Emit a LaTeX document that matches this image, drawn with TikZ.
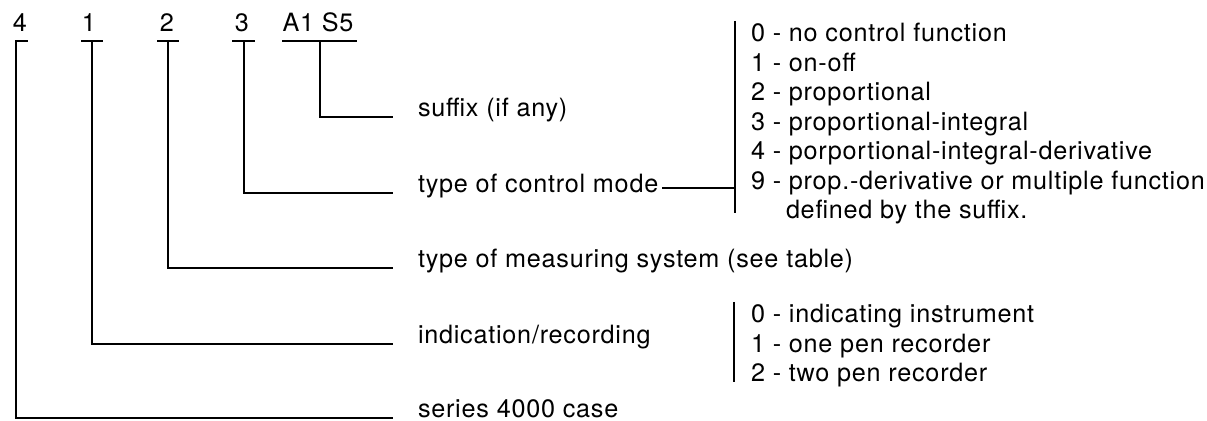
\documentclass[tikz,border=0pt]{standalone}
\usepackage{fontspec}
\setmainfont{TeX Gyre Heros}[LetterSpace=3]
\usetikzlibrary{positioning}

\begin{document}
\begin{tikzpicture}[x=0.5pt,y=-0.5pt,line width=1pt,
    every node/.style={inner sep=0pt,font=\fontsize{12.6}{15}\selectfont},
    digit/.style={anchor=base},
    lbl/.style={anchor=base west},
    item/.style={anchor=base west}]
    \useasboundingbox (0,0) rectangle (1207,421);

    % code number
    \node[digit] (c4) at (20,32){4};
    \node[digit] (c1) at (89,32){1};
    \node[digit] (c2) at (167,32){2};
    \node[digit] (c3) at (242,32){3};
    \node[digit] (cs) at (318,32){A1 S5};
    \draw (15,41) -- (28,41) (81,41) -- (103,41) (157,41) -- (179,41)
          (232,41) -- (255,41) (282,41) -- (357,41);
    \coordinate (t4) at (16,41);
    \coordinate (t1) at (92,41);
    \coordinate (t2) at (167.5,41);
    \coordinate (t3) at (244,41);
    \coordinate (ts) at (320,41);

    % meanings
    \node[lbl] (suf) at (417,117){suffix (if any)};
    \node[lbl] (mode) at (417,193){type of control mode};
    \node[lbl] (meas) at (417,268){type of measuring system (see table)};
    \node[lbl] (ind) at (417,344){indication/recording};
    \node[lbl] (ser) at (417,418){series 4000 case};

    \draw (ts) |- ([xshift=-12pt]suf.base west);
    \draw (t3) |- ([xshift=-12pt]mode.base west);
    \draw (t2) |- ([xshift=-12pt]meas.base west);
    \draw (t1) |- ([xshift=-12pt]ind.base west);
    \draw (t4) |- ([xshift=-12pt]ser.base west);

    % control modes
    \node[item] (m0) at (750,42){0 - no control function};
    \node[item] (m1) at (750,71.5){1 - on-off};
    \node[item] (m2) at (750,101){2 - proportional};
    \node[item] (m3) at (750,130.5){3 - proportional-integral};
    \node[item] (m4) at (750,160){4 - porportional-integral-derivative};
    \node[item] (m9) at (750,189.5){9 - prop.-derivative or multiple function};
    \node[item] (m9b) at (785,219){defined by the suffix.};
    \coordinate (mt) at (735,21);
    \coordinate (mb) at (735,213);
    \draw (mt) -- (mb);
    \coordinate (mj) at ([shift={(1.5pt,2.5pt)}]mode.base east);
    \draw (mj) -- (mj -| mt);

    % recording modes
    \node[item] (r0) at (750,323){0 - indicating instrument};
    \node[item] (r1) at (750,352.5){1 - one pen recorder};
    \node[item] (r2) at (750,382){2 - two pen recorder};
    \draw (734,302) -- (734,382);
\end{tikzpicture}
\end{document}
